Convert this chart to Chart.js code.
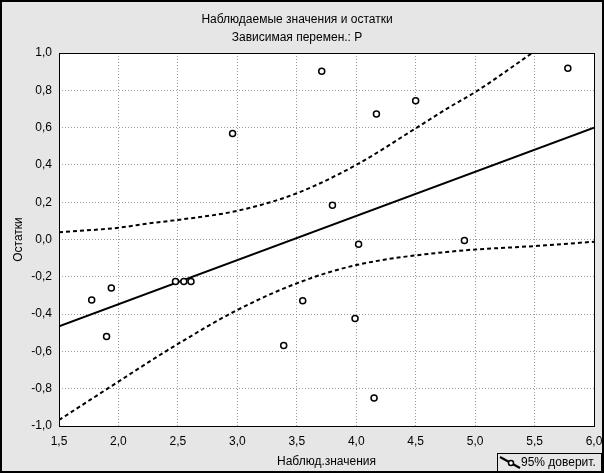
<!DOCTYPE html>
<html>
<head>
<meta charset="utf-8">
<script src="https://cdn.jsdelivr.net/npm/chart.js@4.4.0/dist/chart.umd.min.js"></script>
<style>
  body { margin: 0; background: #e6e6e6; }
  #wrap { width: 604px; height: 473px; }
</style>
</head>
<body>
<div id="wrap"><canvas id="resid-chart" width="604" height="473"></canvas></div>
<script>
// data
let obsX = [1.775, 1.90, 1.94, 2.48, 2.55, 2.61, 2.96, 3.39, 3.55, 3.71, 3.80, 3.99, 4.02, 4.15, 4.17, 4.50, 4.91, 5.78]
let resid = [-0.324, -0.52, -0.26, -0.225, -0.225, -0.225, 0.569, -0.569, -0.328, 0.902, 0.183, -0.423, -0.026, -0.85, 0.673, 0.744, -0.006, 0.918]

let fitX = [1.5, 6.0]
let fitY = [-0.465, 0.60]

let upperX = [1.5, 2.0, 2.26, 2.5, 3.0, 3.5, 4.0, 4.5, 4.79, 5.0, 5.48]
let upperY = [0.039, 0.063, 0.087, 0.105, 0.154, 0.248, 0.40, 0.596, 0.712, 0.79, 1.0]

let lowerX = [1.5, 2.0, 2.26, 2.5, 3.0, 3.5, 4.0, 4.79, 5.5, 6.0]
let lowerY = [-0.968, -0.762, -0.655, -0.56, -0.378, -0.235, -0.137, -0.065, -0.035, -0.012]

let xTicks = [1.5, 2.0, 2.5, 3.0, 3.5, 4.0, 4.5, 5.0, 5.5, 6.0]
let yTicks = [-1.0, -0.8, -0.6, -0.4, -0.2, 0.0, 0.2, 0.4, 0.6, 0.8, 1.0]

let titleLines = ['Наблюдаемые значения и остатки', 'Зависимая перемен.: P']
let xTitle = 'Наблюд.значения'
let yTitle = 'Остатки'
let legendText = '95% доверит.'

function pairs(xs, ys) {
    return xs.map((x, i) => ({x: x, y: ys[i]}))
}
function comma(v) {
    return Number(v).toFixed(1).replace('.', ',')
}

let font = 'Liberation Sans, Arial, sans-serif'
let bg = '#e6e6e6'

// background, frames and the legend box
let frame = {
    id: 'frame',
    beforeDraw(chart) {
        let ctx = chart.ctx
        let a = chart.chartArea
        ctx.save()
        ctx.fillStyle = bg
        ctx.fillRect(0, 0, chart.width, chart.height)
        ctx.fillStyle = '#ffffff'
        ctx.fillRect(a.left, a.top, a.right - a.left, a.bottom - a.top)
        ctx.restore()
    },
    afterDraw(chart) {
        let ctx = chart.ctx
        let a = chart.chartArea
        ctx.save()
        ctx.strokeStyle = '#000'
        ctx.lineWidth = 1
        ctx.strokeRect(a.left + 0.5, a.top + 0.5, a.right - a.left, a.bottom - a.top)
        ctx.lineWidth = 2
        ctx.strokeRect(1, 1, chart.width - 2, chart.height - 2)

        // legend
        ctx.lineWidth = 1
        ctx.fillStyle = bg
        ctx.fillRect(497, 453, 104, 18)
        ctx.strokeRect(497.5, 453.5, 104, 18)
        ctx.lineWidth = 2
        ctx.beginPath()
        ctx.moveTo(500, 457)
        ctx.lineTo(520, 468)
        ctx.stroke()
        ctx.lineWidth = 1.5
        ctx.fillStyle = '#fff'
        ctx.beginPath()
        ctx.arc(511, 463, 2.5, 0, Math.PI * 2)
        ctx.fill()
        ctx.stroke()
        ctx.fillStyle = '#000'
        ctx.font = '12px ' + font
        ctx.textBaseline = 'middle'
        ctx.textAlign = 'left'
        ctx.fillText(legendText, 521, 463)
        ctx.restore()
    }
}

let canvas = document.querySelector('#resid-chart')
let context = canvas.getContext('2d')

let chart = new Chart(context, {
    type: 'scatter',
    data: {
        datasets: [
            {
                label: 'Остатки',
                data: pairs(obsX, resid),
                showLine: false,
                pointStyle: 'circle',
                pointRadius: 3,
                pointBorderWidth: 1.5,
                pointBorderColor: '#000',
                pointBackgroundColor: '#fff',
                order: 0
            },
            {
                label: 'fit',
                data: pairs(fitX, fitY),
                showLine: true,
                borderColor: '#000',
                borderWidth: 2,
                pointRadius: 0,
                order: 1
            },
            {
                label: legendText,
                data: pairs(upperX, upperY),
                showLine: true,
                borderColor: '#000',
                borderWidth: 2,
                borderDash: [4, 3],
                cubicInterpolationMode: 'monotone',
                pointRadius: 0,
                order: 2
            },
            {
                label: 'lower',
                data: pairs(lowerX, lowerY),
                showLine: true,
                borderColor: '#000',
                borderWidth: 2,
                borderDash: [4, 3],
                cubicInterpolationMode: 'monotone',
                pointRadius: 0,
                order: 3
            }
        ]
    },
    options: {
        responsive: false,
        animation: false,
        layout: { padding: { left: 0, right: 10, top: 0, bottom: 0 } },
        plugins: {
            legend: { display: false },
            tooltip: { enabled: false },
            title: {
                display: true,
                text: titleLines,
                color: '#000',
                font: { family: font, size: 12, weight: 'normal', lineHeight: 1.5 },
                padding: { top: 11, bottom: 6 }
            }
        },
        scales: {
            x: {
                type: 'linear',
                min: 1.5,
                max: 6.0,
                afterFit(scale) {
                    scale.height = 47
                    scale.paddingLeft = 0
                    scale.paddingRight = 0
                },
                afterBuildTicks(scale) { scale.ticks = xTicks.map(v => ({value: v})) },
                grid: { color: '#9a9a9a', lineWidth: 1, drawTicks: false },
                border: { display: false, dash: [1, 2] },
                ticks: {
                    color: '#000',
                    padding: 8,
                    autoSkip: false,
                    maxRotation: 0,
                    font: { family: font, size: 12 },
                    callback: v => comma(v)
                },
                title: {
                    display: true,
                    text: xTitle,
                    color: '#000',
                    font: { family: font, size: 12 },
                    padding: { top: 0, bottom: 4 }
                }
            },
            y: {
                type: 'linear',
                min: -1.0,
                max: 1.0,
                afterFit(scale) { scale.width = 59 },
                afterBuildTicks(scale) { scale.ticks = yTicks.map(v => ({value: v})) },
                grid: { color: '#9a9a9a', lineWidth: 1, drawTicks: false },
                border: { display: false, dash: [1, 2] },
                ticks: {
                    color: '#000',
                    padding: 7,
                    font: { family: font, size: 12 },
                    callback: v => comma(v)
                },
                title: {
                    display: true,
                    text: yTitle,
                    color: '#000',
                    font: { family: font, size: 12 },
                    padding: { top: 11, bottom: 0 }
                }
            }
        }
    },
    plugins: [frame]
})
</script>
</body>
</html>
